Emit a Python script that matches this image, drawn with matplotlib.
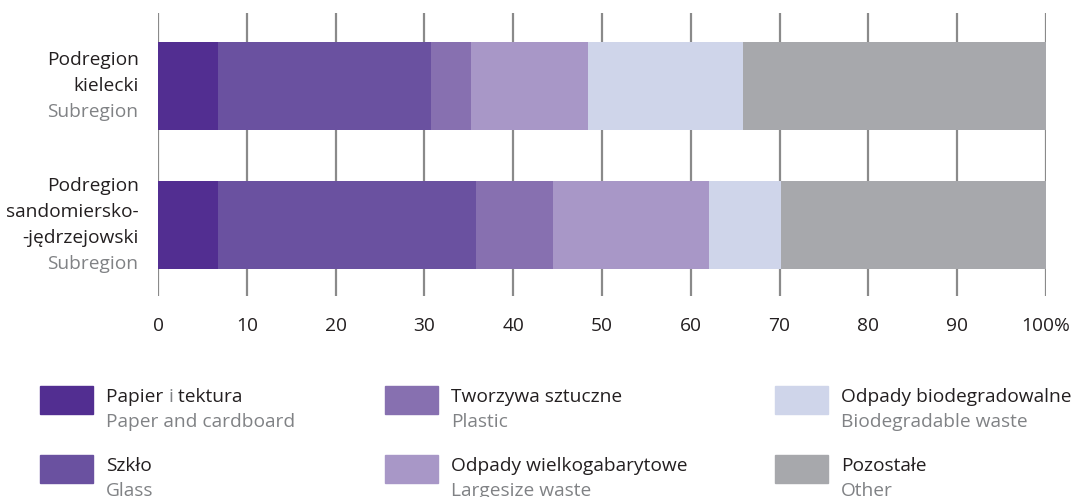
import matplotlib
matplotlib.use('Agg')
import matplotlib.pyplot as plt
from matplotlib.patches import Rectangle
import numpy as np

plt.rcParams['font.family'] = ['Open Sans', 'DejaVu Sans']

# data (percent shares)
regions_pl = [['Podregion', 'kielecki'],
              ['Podregion', 'sandomiersko-', '-jędrzejowski']]
regions_en = ['Subregion', 'Subregion']
cat_pl = ['Papier i tektura', 'Szkło', 'Tworzywa sztuczne',
          'Odpady wielkogabarytowe', 'Odpady biodegradowalne', 'Pozostałe']
cat_en = ['Paper and cardboard', 'Glass', 'Plastic',
          'Largesize waste', 'Biodegradable waste', 'Other']
shares = np.array([
    [6.8, 23.9, 4.6, 13.1, 17.5, 34.1],   # kielecki
    [6.8, 29.0, 8.7, 17.6, 8.1, 29.8],    # sandomiersko-jędrzejowski
])
xticks = [0, 10, 20, 30, 40, 50, 60, 70, 80, 90, 100]
xticklabels = ['0', '10', '20', '30', '40', '50', '60', '70', '80', '90', '100%']

colors = ['#522e91', '#6a51a0', '#8770b0', '#a897c7', '#cfd5ea', '#a7a8ac']
BLACK = '#231f20'
GREY = '#808285'
FS = 13.8

fig = plt.figure(figsize=(10.77, 4.97), dpi=100)
ax = fig.add_axes([158 / 1077, 1 - 296 / 497, (1046 - 158) / 1077, (296 - 13) / 497])

ypos = np.arange(len(regions_pl))
left = np.zeros(len(regions_pl))
for j, col in enumerate(colors):
    ax.barh(ypos, shares[:, j], left=left, height=0.633, color=col, zorder=2)
    left += shares[:, j]

ax.set_xlim(0, 100)
ax.set_ylim(1.511, -0.525)
ax.set_xticks(xticks)
ax.set_xticklabels(xticklabels, fontsize=FS, color=BLACK)
ax.set_yticks([])
ax.tick_params(axis='x', length=0, pad=15)
ax.grid(axis='x', color='#8a8a8a', lw=1.6, zorder=0)
ax.set_axisbelow(True)
for s in ax.spines.values():
    s.set_visible(False)

# region labels, one text per line, right aligned left of the axis
LINE = 18.7  # points between lines
for i, (pl, en) in enumerate(zip(regions_pl, regions_en)):
    lines = [(t, BLACK) for t in pl] + [(en, GREY)]
    n = len(lines)
    for k, (t, c) in enumerate(lines):
        off = ((n - 1) / 2 - k) * LINE
        ax.annotate(t, xy=(0, ypos[i]), xycoords=('axes fraction', 'data'),
                    xytext=(-14, off), textcoords='offset points',
                    ha='right', va='center', fontsize=FS, color=c)


def segmented_text(x, y, label, color):
    # the connective " i " is printed in grey in the reference
    if ' i ' in label:
        a, b = label.split(' i ', 1)
        parts = [(a + ' ', color), ('i', GREY), (' ' + b, color)]
    else:
        parts = [(label, color)]
    r = fig.canvas.get_renderer()
    for t, c in parts:
        txt = fig.text(x, y, t, fontsize=FS, color=c, ha='left', va='center')
        bb = txt.get_window_extent(renderer=r)
        x += bb.width / fig.bbox.width


# legend drawn by hand: 3 columns x 2 rows, column-major
col_x = [40, 385, 775]
row_y = [386, 455]
for j in range(len(cat_pl)):
    cx = col_x[j // 2]
    ry = row_y[j % 2]
    fig.patches.append(Rectangle((cx / 1077, 1 - (ry + 28) / 497), 53 / 1077, 28 / 497,
                                 transform=fig.transFigure, color=colors[j]))
    segmented_text((cx + 66) / 1077, 1 - (ry + 11) / 497, cat_pl[j], BLACK)
    fig.text((cx + 66) / 1077, 1 - (ry + 36) / 497, cat_en[j], fontsize=FS,
             color=GREY, ha='left', va='center')

fig.savefig('out.png', dpi=100)
